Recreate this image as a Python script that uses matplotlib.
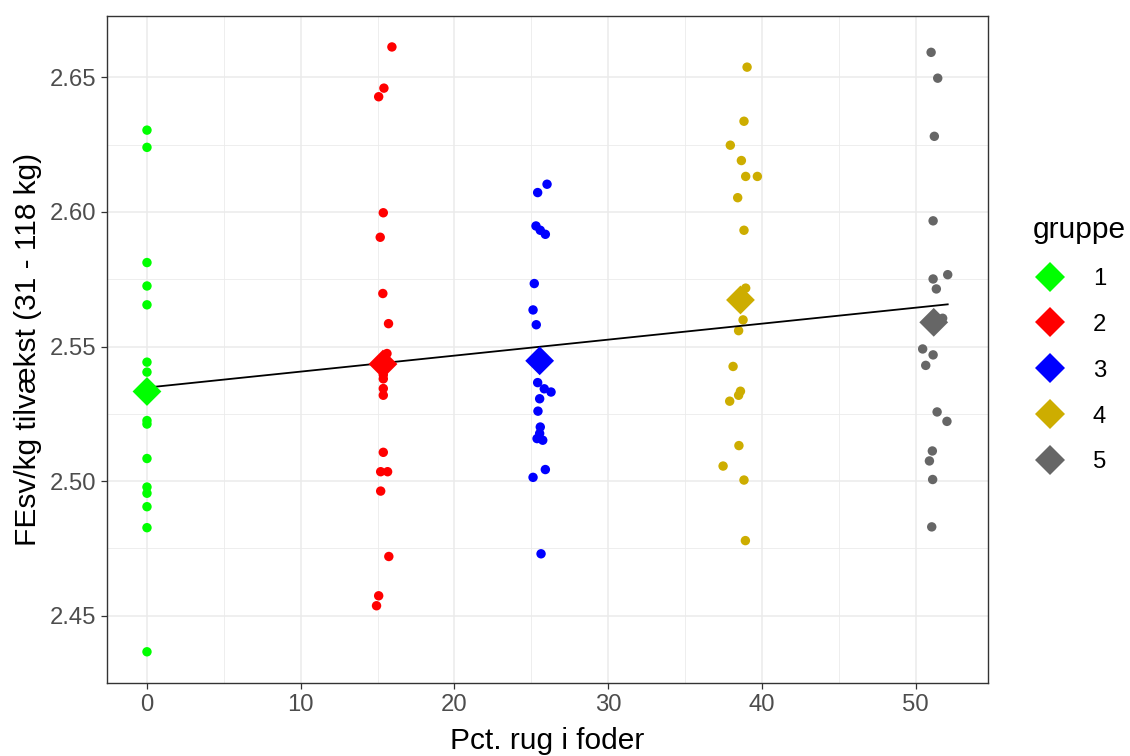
import matplotlib
matplotlib.use("Agg")
import matplotlib.pyplot as plt
from matplotlib.lines import Line2D
import numpy as np

plt.rcParams['font.family'] = ['Liberation Sans', 'DejaVu Sans']

# ---- data ----
groups = ["1", "2", "3", "4", "5"]
colors = ["#00FF00", "#FF0000", "#0000FF", "#CDAD00", "#666666"]

g1_x = [0.0] * 15
g1_y = [2.6304, 2.6240, 2.5812, 2.5725, 2.5655, 2.5442, 2.5405, 2.5225, 2.5212,
        2.5084, 2.4978, 2.4955, 2.4905, 2.4827, 2.4366]

g2_x = [15.93, 15.41, 15.07, 15.37, 15.17, 15.34, 15.71, 15.61, 15.45, 15.37,
        15.37, 15.37, 15.37, 15.37, 15.20, 15.65, 15.20, 15.73, 15.07, 14.93]
g2_y = [2.6613, 2.6460, 2.6428, 2.5997, 2.5906, 2.5697, 2.5585, 2.5474, 2.5450, 2.5395,
        2.5380, 2.5344, 2.5319, 2.5107, 2.5035, 2.5035, 2.4963, 2.4720, 2.4574, 2.4537]

g3_x = [26.02, 25.41, 25.30, 25.58, 25.91, 25.19, 25.11, 25.32, 25.41, 25.84,
        26.28, 25.54, 25.43, 25.58, 25.54, 25.37, 25.74, 25.91, 25.11, 25.63]
g3_y = [2.6103, 2.6072, 2.5948, 2.5932, 2.5917, 2.5734, 2.5636, 2.5581, 2.5366, 2.5343,
        2.5331, 2.5306, 2.5260, 2.5201, 2.5177, 2.5158, 2.5152, 2.5043, 2.5014, 2.4730]

g4_x = [39.03, 38.83, 37.94, 38.66, 38.94, 39.70, 38.42, 38.83, 38.94, 38.77,
        38.48, 38.12, 38.60, 38.48, 37.90, 38.50, 37.47, 38.83, 38.92]
g4_y = [2.6538, 2.6337, 2.6248, 2.6191, 2.6132, 2.6132, 2.6053, 2.5932, 2.5717, 2.5599,
        2.5559, 2.5426, 2.5334, 2.5319, 2.5297, 2.5132, 2.5056, 2.5004, 2.4779]

g5_x = [51.00, 51.43, 51.21, 51.13, 51.13, 52.08, 51.34, 51.75, 50.45, 51.13,
        50.65, 51.39, 52.03, 51.08, 50.89, 51.10, 51.04]
g5_y = [2.6593, 2.6497, 2.6281, 2.5967, 2.5751, 2.5767, 2.5714, 2.5605, 2.5491, 2.5469,
        2.5430, 2.5257, 2.5222, 2.5112, 2.5075, 2.5006, 2.4830]

mean_x = [0.0, 15.35, 25.54, 38.60, 51.17]
mean_y = [2.5333, 2.5435, 2.5447, 2.5673, 2.5590]

xticks = [0, 10, 20, 30, 40, 50]
yticks = [2.45, 2.50, 2.55, 2.60, 2.65]
xlabel = "Pct. rug i foder"
ylabel = "FEsv/kg tilvækst (31 - 118 kg)"
legend_title = "gruppe"

# ---- figure ----
fig = plt.figure(figsize=(11.3, 7.56), dpi=100)
ax = fig.add_axes([107 / 1130, 73 / 756, (988 - 107) / 1130, (683 - 16) / 756])

xs_all = [g1_x, g2_x, g3_x, g4_x, g5_x]
ys_all = [g1_y, g2_y, g3_y, g4_y, g5_y]

for xs, ys, c in zip(xs_all, ys_all, colors):
    ax.scatter(xs, ys, s=46, color=c, edgecolors='none', zorder=3)

# linear fit over all points
X = np.concatenate([np.asarray(v) for v in xs_all])
Y = np.concatenate([np.asarray(v) for v in ys_all])
b1, b0 = np.polyfit(X, Y, 1)
xl = np.array([X.min(), X.max()])
ax.plot(xl, b0 + b1 * xl, color='black', lw=1.3, zorder=4)

for mx, my, c in zip(mean_x, mean_y, colors):
    ax.scatter([mx], [my], s=215, marker='D', color=c, edgecolors='none', zorder=5)

# axes styling (theme_bw-like)
ax.set_xlim(-2.6, 54.7)
ax.set_ylim(2.4252, 2.6728)
ax.set_xticks(xticks)
ax.set_yticks(yticks)
ax.set_yticklabels([f"{v:.2f}" for v in yticks])
ax.set_xticks(np.arange(5, 55, 10), minor=True)
ax.set_yticks([2.425, 2.475, 2.525, 2.575, 2.625], minor=True)
ax.grid(which='major', color='#EBEBEB', lw=1.1, zorder=0)
ax.grid(which='minor', color='#EBEBEB', lw=0.6, zorder=0)
ax.set_axisbelow(True)
for sp in ax.spines.values():
    sp.set_color('#333333')
    sp.set_linewidth(1.0)
ax.tick_params(which='major', length=4, width=0.9, color='#333333',
               labelsize=17.2, labelcolor='#4D4D4D', pad=4)
ax.tick_params(which='minor', length=0)
ax.set_xlabel(xlabel, fontsize=21.5, color='black', labelpad=7.5)
ax.set_ylabel(ylabel, fontsize=21.5, color='black', labelpad=5)

handles = [Line2D([], [], ls='none', marker='D', markersize=15.3, color=c, markeredgewidth=0)
           for c in colors]
leg = ax.legend(handles, groups, title=legend_title, loc='upper left',
                bbox_to_anchor=(1023.5 / 1130, 1 - 206.5 / 756), bbox_transform=fig.transFigure,
                frameon=False, fontsize=17.2, title_fontsize=21.5, labelspacing=1.0,
                handletextpad=1.1, handlelength=1.4, alignment='left', borderaxespad=0,
                borderpad=0.4)

fig.savefig("out.png", dpi=100)
